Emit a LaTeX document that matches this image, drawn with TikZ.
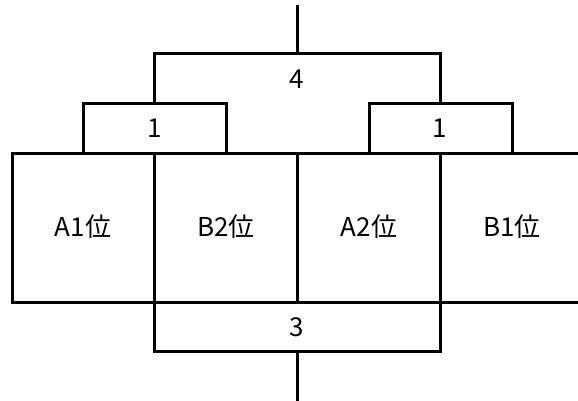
\documentclass[tikz,border=0pt]{standalone}
\usepackage{fontspec}
\setmainfont{Noto Sans CJK JP}
\begin{document}
\begin{tikzpicture}[x=1pt, y=-1pt, line width=3pt,
    lbl/.style={font=\fontsize{26}{26}\selectfont, inner sep=0pt}]
  \useasboundingbox (0,0) rectangle (578,401);

  % Bracket corners
  \coordinate (topin) at (297,5);
  \coordinate (topmid) at (297,54);
  \coordinate (topL) at (154,54);
  \coordinate (topR) at (440,54);
  \coordinate (semiL) at (154,104);
  \coordinate (semiR) at (440,104);
  \coordinate (qLa) at (83,104);
  \coordinate (qLb) at (226,104);
  \coordinate (qRa) at (369,104);
  \coordinate (qRb) at (512,104);
  \coordinate (rowTL) at (12,153);
  \coordinate (rowTR) at (578,153);
  \coordinate (rowBL) at (12,302);
  \coordinate (rowBR) at (578,302);
  \coordinate (thirdL) at (154,351);
  \coordinate (thirdR) at (440,351);
  \coordinate (botmid) at (297,351);
  \coordinate (botout) at (297,401);

  % Final
  \draw (topin) -- (topmid);
  \draw (semiL) -- (topL) -- (topR) -- (semiR);
  \node[lbl] (final) at (297,79) {4};

  % Semi finals
  \draw (qLa |- rowTL) -- (qLa) -- (qLb) -- (qLb |- rowTL);
  \draw (qRa |- rowTL) -- (qRa) -- (qRb) -- (qRb |- rowTL);
  \node[lbl] (semiA) at (155,128) {1};
  \node[lbl] (semiB) at (440,128) {1};

  % Entry row
  \draw (rowTR) -- (rowTL) -- (rowBL) -- (rowBR);
  \draw (topmid |- rowTL) -- (topmid |- rowBL);
  \draw (semiL |- rowTL) -- (thirdL) -- (thirdR) -- (semiR |- rowTL);
  \node[lbl] (A1) at (83,227) {A1位};
  \node[lbl] (B2) at (226,227) {B2位};
  \node[lbl] (A2) at (369,227) {A2位};
  \node[lbl] (B1) at (512,227) {B1位};

  % Third place
  \node[lbl] (third) at (297,327) {3};
  \draw (botmid) -- (botout);
\end{tikzpicture}
\end{document}
